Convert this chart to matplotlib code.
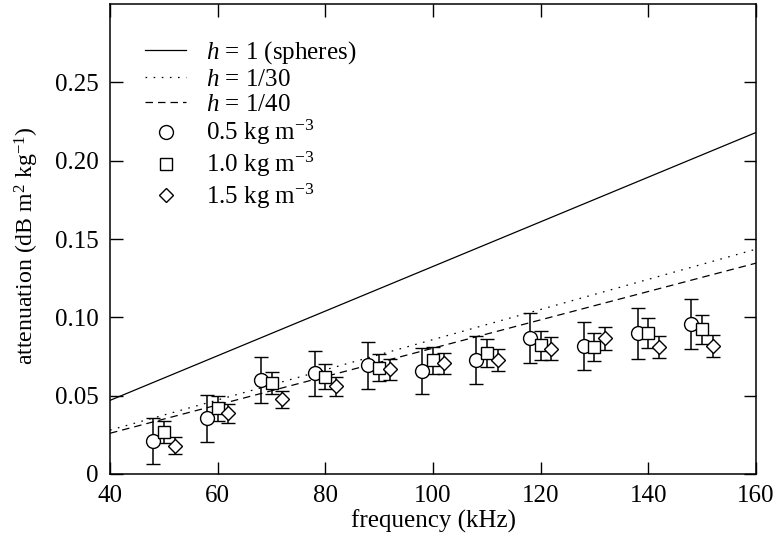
import matplotlib
matplotlib.use("Agg")
import matplotlib.pyplot as plt
import numpy as np
from matplotlib.container import ErrorbarContainer

plt.rcParams['font.family'] = ['Liberation Serif', 'DejaVu Serif']
plt.rcParams['mathtext.fontset'] = 'custom'
plt.rcParams['mathtext.rm'] = 'Liberation Serif'
plt.rcParams['mathtext.it'] = 'Liberation Serif:italic'
plt.rcParams['mathtext.bf'] = 'Liberation Serif:bold'

# model curves
line_freq = [40, 100, 160]
h1 = [0.047, 0.1325, 0.218]
h30 = [0.028, 0.0858, 0.1435]
h40 = [0.026, 0.0803, 0.1346]

# measurements
freq = [48, 58, 68, 78, 88, 98, 108, 118, 128, 138, 148]
c05 = [0.021, 0.0355, 0.060, 0.0642, 0.0695, 0.0657, 0.073, 0.0868, 0.0816, 0.0897, 0.0957]
c05_err = [0.0147, 0.015, 0.0145, 0.0142, 0.015, 0.0147, 0.0153, 0.016, 0.0155, 0.016, 0.0157]
c10 = [0.027, 0.042, 0.0578, 0.062, 0.0678, 0.0725, 0.077, 0.0822, 0.0812, 0.090, 0.0923]
c10_err = [0.007, 0.008, 0.007, 0.008, 0.0085, 0.0085, 0.009, 0.0092, 0.009, 0.0095, 0.0095]
c15 = [0.018, 0.0387, 0.0476, 0.056, 0.0668, 0.0706, 0.0727, 0.080, 0.0865, 0.081, 0.0816]
c15_err = [0.0055, 0.006, 0.0055, 0.006, 0.0065, 0.0065, 0.0068, 0.0073, 0.0072, 0.0068, 0.0069]

offset10 = 2
offset15 = 4

FS = 18

fig = plt.figure(figsize=(7.76, 5.42), dpi=100)
ax = fig.add_axes([0.1418, 0.1255, 0.8324, 0.867])

lw = 0.9
ax.plot(line_freq, h1, '-', color='black', lw=lw, label='$h$ = 1 (spheres)')
ax.plot(line_freq, h30, color='black', lw=lw, dashes=(1.3, 5.2), label='$h$ = 1/30')
ax.plot(line_freq, h40, color='black', lw=lw, dashes=(6, 4), label='$h$ = 1/40')

ek = dict(ecolor='black', elinewidth=1.1, capsize=5, capthick=1.1, linestyle='none',
          markeredgecolor='black', markerfacecolor='white', markeredgewidth=1.0)
ax.errorbar(freq, c05, yerr=c05_err, marker='o', ms=10, label='0.5 kg m$^{-3}$', **ek)
ax.errorbar(np.array(freq) + offset10, c10, yerr=c10_err, marker='s', ms=8,
            label='1.0 kg m$^{-3}$', **ek)
ax.errorbar(np.array(freq) + offset15, c15, yerr=c15_err, marker='D', ms=7,
            label='1.5 kg m$^{-3}$', **ek)

ax.set_xlim(40, 160)
ax.set_ylim(0, 0.3)
ax.set_xticks([40, 60, 80, 100, 120, 140, 160])
ax.set_yticks([0, 0.05, 0.10, 0.15, 0.20, 0.25])
ax.set_yticklabels(['0', '0.05', '0.10', '0.15', '0.20', '0.25'])
ax.tick_params(direction='in', length=9, width=1, top=True, right=True,
               labelsize=FS)
ax.tick_params(axis='x', pad=8)
ax.tick_params(axis='y', pad=8)
for s in ax.spines.values():
    s.set_linewidth(1.1)

ax.set_xlabel('frequency (kHz)', fontsize=FS, labelpad=2)
ax.set_ylabel('attenuation (dB m$^2$ kg$^{-1}$)', fontsize=17.2)
ax.yaxis.set_label_coords(-0.107, 0.485)

handles, labels = ax.get_legend_handles_labels()
new_handles = [h[0] if isinstance(h, ErrorbarContainer) else h for h in handles]
leg = ax.legend(new_handles, labels, loc='upper left', frameon=False, fontsize=FS,
                handlelength=1.65, handletextpad=0.8, labelspacing=0.1,
                borderaxespad=0.0, borderpad=0.0, bbox_to_anchor=(0.054, 0.926))

fig.savefig('out.png', dpi=100)
